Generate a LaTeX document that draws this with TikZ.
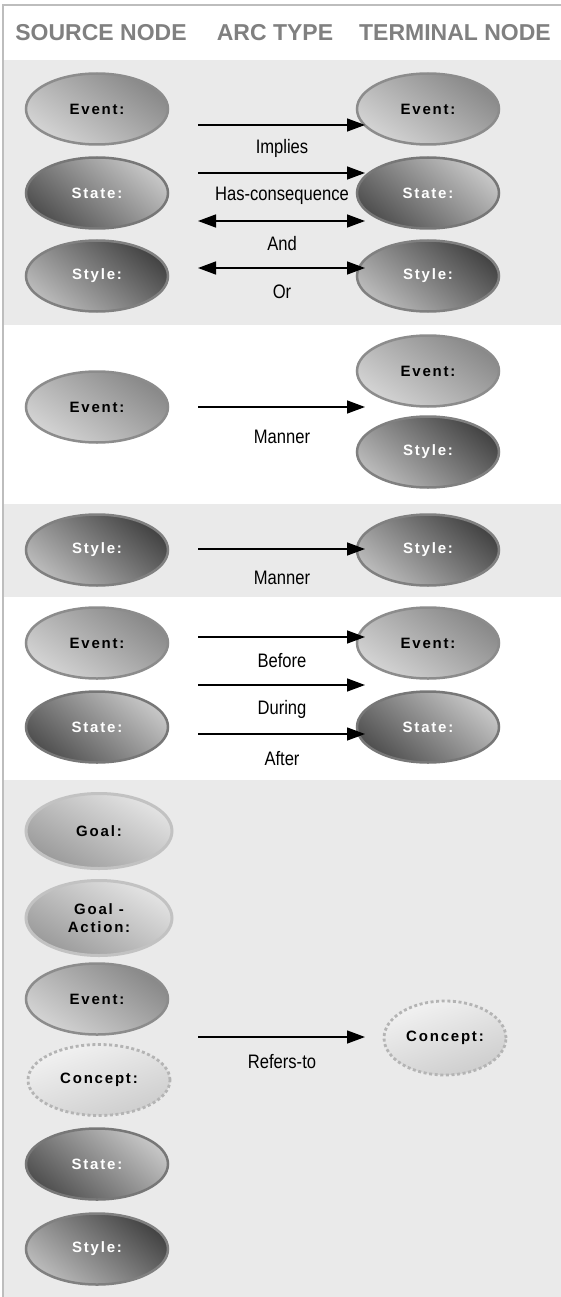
\documentclass[tikz,border=0pt]{standalone}
\usepackage{fontspec}
\setmainfont{Liberation Sans}
\newfontfamily\hdrfont{Liberation Sans}
\newfontfamily\lblfont[FakeStretch=0.85]{Liberation Sans}
\newfontfamily\nodefont[LetterSpace=12]{Liberation Sans}
\usetikzlibrary{shapes.geometric,arrows.meta}
\definecolor{bandgray}{HTML}{EAEAEA}
\definecolor{framegray}{HTML}{BDBDBD}
\definecolor{hdrgray}{HTML}{808080}
\definecolor{evbord}{HTML}{8C8C8C}
\definecolor{evdark}{HTML}{888888}
\definecolor{evlight}{HTML}{D4D4D4}
\definecolor{stbord}{HTML}{777777}
\definecolor{stdark}{HTML}{505050}
\definecolor{stlight}{HTML}{C6C6C6}
\definecolor{sybord}{HTML}{808080}
\definecolor{sydark}{HTML}{444444}
\definecolor{sylight}{HTML}{BABABA}
\definecolor{gobord}{HTML}{C2C2C2}
\definecolor{godark}{HTML}{9A9A9A}
\definecolor{golight}{HTML}{E4E4E4}
\definecolor{cobord}{HTML}{B4B4B4}
\definecolor{codark}{HTML}{CDCDCD}
\definecolor{colight}{HTML}{F2F2F2}
\tikzset{
  ell/.style={ellipse, minimum width=142pt, minimum height=71pt, line width=2.5pt,
    inner sep=0pt, align=center, font=\nodefont\bfseries\fontsize{15}{18}\selectfont},
  evt/.style={ell, draw=evbord, top color=evdark, bottom color=evlight, shading angle=-35, text=black},
  sta/.style={ell, draw=stbord, top color=stlight, bottom color=stdark, shading angle=-40, text=white},
  sty/.style={ell, draw=sybord, top color=sydark, bottom color=sylight, shading angle=-40, text=white},
  goa/.style={ell, minimum height=75pt, minimum width=146pt, draw=gobord, line width=3pt, top color=golight, bottom color=godark, shading angle=-30, text=black},
  con/.style={ell, draw=cobord, line width=2.8pt, dash pattern=on 3pt off 2.6pt,
    top color=colight, bottom color=codark, shading angle=20, text=black},
  hdr/.style={font=\hdrfont\bfseries\fontsize{23}{26}\selectfont, text=hdrgray, anchor=center},
  lbl/.style={font=\lblfont\fontsize{19.5}{22}\selectfont, text=black, anchor=center},
  arr/.style={line width=1.4pt, -{Triangle[length=18pt,width=13pt]}},
  darr/.style={line width=1.4pt, {Triangle[length=18pt,width=13pt]}-{Triangle[length=18pt,width=13pt]}}
}
\begin{document}
\begin{tikzpicture}[x=1pt,y=-1pt]
\path[use as bounding box] (0,0) rectangle (561,1297);
\fill[white] (0,0) rectangle (561,1297);
\fill[bandgray] (4,60) rectangle (561,325);
\fill[bandgray] (4,504) rectangle (561,597);
\fill[bandgray] (4,780) rectangle (561,1297);
\draw[framegray, line width=2pt] (3,1297) -- (3,5) -- (561,5);

% header
\node[hdr] (h1) at (101,33) {SOURCE NODE};
\node[hdr] (h2) at (275,33) {ARC TYPE};
\node[hdr] (h3) at (455,33) {TERMINAL NODE};

% section 1
\node[evt] (s1e) at (97,109) {Event:};
\node[sta] (s1s) at (97,193) {State:};
\node[sty] (s1y) at (97,276) {Style:};
\node[evt] (t1e) at (428,109) {Event:};
\node[sta] (t1s) at (428,193) {State:};
\node[sty] (t1y) at (428,276) {Style:};
\coordinate (a1a) at (198,125); \coordinate (a1b) at (365,125);
\coordinate (a2a) at (198,173); \coordinate (a2b) at (365,173);
\coordinate (a3a) at (198,221); \coordinate (a3b) at (365,221);
\coordinate (a4a) at (198,268); \coordinate (a4b) at (365,268);
\draw[arr] (a1a) -- (a1b);
\draw[arr] (a2a) -- (a2b);
\draw[darr] (a3a) -- (a3b);
\draw[darr] (a4a) -- (a4b);
\node[lbl] (l1) at (282,148) {Implies};
\node[lbl] (l2) at (282,196) {Has-consequence};
\node[lbl] (l3) at (282,244) {And};
\node[lbl] (l4) at (282,292) {Or};

% section 2
\node[evt] (s2e) at (97,407) {Event:};
\node[evt] (t2e) at (428,371) {Event:};
\node[sty] (t2y) at (428,452) {Style:};
\coordinate (a5a) at (198,407); \coordinate (a5b) at (365,407);
\draw[arr] (a5a) -- (a5b);
\node[lbl] (l5) at (282,437) {Manner};

% section 3
\node[sty] (s3y) at (97,550) {Style:};
\node[sty] (t3y) at (428,550) {Style:};
\coordinate (a6a) at (198,549); \coordinate (a6b) at (365,549);
\draw[arr] (a6a) -- (a6b);
\node[lbl] (l6) at (282,578) {Manner};

% section 4
\node[evt] (s4e) at (97,643) {Event:};
\node[sta] (s4s) at (97,727) {State:};
\node[evt] (t4e) at (428,643) {Event:};
\node[sta] (t4s) at (428,727) {State:};
\coordinate (a7a) at (198,637); \coordinate (a7b) at (365,637);
\coordinate (a8a) at (198,685); \coordinate (a8b) at (365,685);
\coordinate (a9a) at (198,734); \coordinate (a9b) at (365,734);
\draw[arr] (a7a) -- (a7b);
\draw[arr] (a8a) -- (a8b);
\draw[arr] (a9a) -- (a9b);
\node[lbl] (l7) at (282,661) {Before};
\node[lbl] (l8) at (282,709) {During};
\node[lbl] (l9) at (282,759) {After};

% section 5
\node[goa] (s5g) at (99,831) {Goal:};
\node[goa] (s5a) at (99,918) {Goal -\\Action:};
\node[evt] (s5e) at (97,999) {Event:};
\node[con] (s5c) at (99,1080) {Concept:};
\node[sta] (s5s) at (97,1164) {State:};
\node[sty] (s5y) at (97,1249) {Style:};
\node[con, minimum width=122pt, minimum height=74pt] (t5c) at (445,1038) {Concept:};
\coordinate (a10a) at (198,1037); \coordinate (a10b) at (365,1037);
\draw[arr] (a10a) -- (a10b);
\node[lbl] (l10) at (282,1062) {Refers-to};
\end{tikzpicture}
\end{document}
